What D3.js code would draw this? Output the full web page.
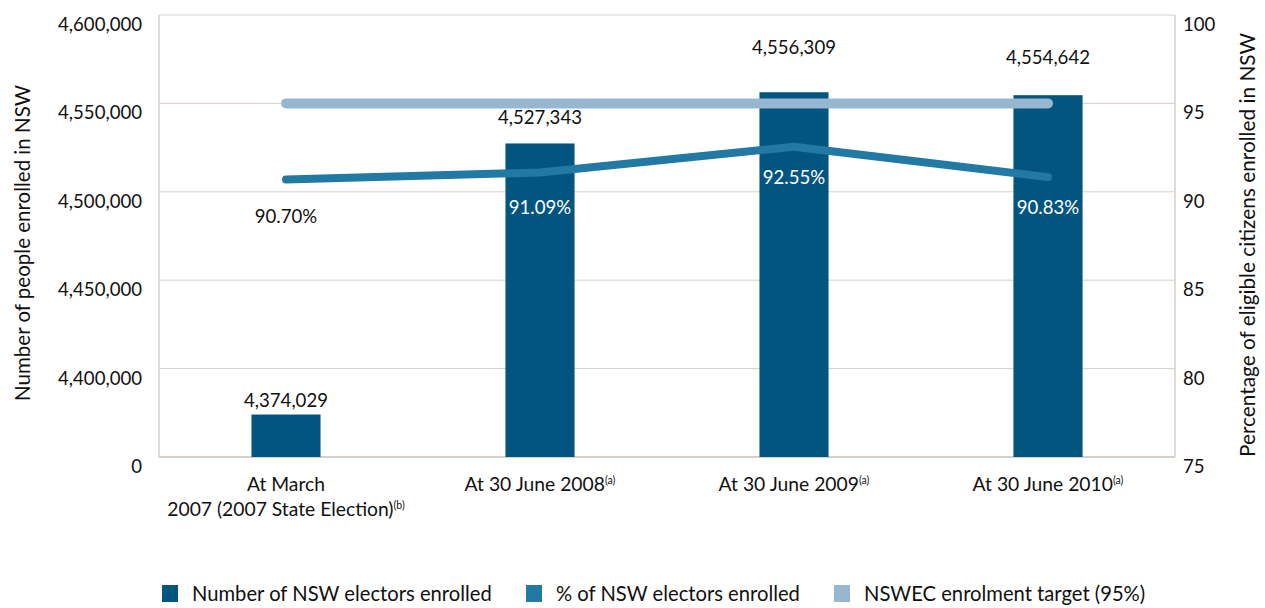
<!DOCTYPE html>
<html>
<head>
<meta charset="utf-8">
<script src="https://cdn.jsdelivr.net/npm/d3@7"></script>
<style>
  body { margin: 0; background: #fff; }
  svg { display: block; font-family: Lato, "DejaVu Sans", sans-serif; }
</style>
</head>
<body>
<script>
// data
const categories = ["2007", "2008", "2009", "2010"];
const categoryLines = [
    ["At March", "2007 (2007 State Election)"],
    ["At 30 June 2008"],
    ["At 30 June 2009"],
    ["At 30 June 2010"]
];
const categoryNotes = ["(b)", "(a)", "(a)", "(a)"];
const enrolled = [4374029, 4527343, 4556309, 4554642];
const percentEnrolled = [90.70, 91.09, 92.55, 90.83];
const targetPercent = [95, 95, 95, 95];
const leftTicks = [4350000, 4400000, 4450000, 4500000, 4550000, 4600000];
const rightTicks = [75, 80, 85, 90, 95, 100];
const legendLabels = ["Number of NSW electors enrolled", "% of NSW electors enrolled", "NSWEC enrolment target (95%)"];

// layout
const chartWidth = 1265, chartHeight = 608;
const plotLeft = 159, plotRight = 1175, plotTop = 15, plotBottom = 457;
const barColor = "#02557f", pctColor = "#2279a3", targetColor = "#97b7d0";
const gridColor = "#d6cfc7";
const textColor = "#111";
const valueLabelGap = [8, 19, 38, 31];
const pctLabelGap = [44, 41, 37, 37];

const svg = d3.select("body").append("svg")
    .attr("width", chartWidth)
    .attr("height", chartHeight);

const x = d3.scaleBand()
    .domain(categories)
    .range([plotLeft, plotRight])
    .paddingInner(0.728)
    .paddingOuter(0.364);

const yLeft = d3.scaleLinear()
    .domain([4350000, 4600000])
    .range([plotBottom, plotTop]);

const yRight = d3.scaleLinear()
    .domain([75, 100])
    .range([plotBottom, plotTop]);

const fmt = d3.format(",");

// grid
svg.append("g").selectAll("line")
    .data(leftTicks)
    .enter()
    .append("line")
    .attr("x1", plotLeft).attr("x2", plotRight)
    .attr("y1", (d) => yLeft(d)).attr("y2", (d) => yLeft(d))
    .attr("stroke", gridColor)
    .attr("stroke-width", (d, i) => i === 0 ? 2 : 1);

svg.append("line")
    .attr("x1", plotLeft).attr("x2", plotLeft).attr("y1", plotTop).attr("y2", plotBottom)
    .attr("stroke", gridColor).attr("stroke-width", 1.5);
svg.append("line")
    .attr("x1", plotRight).attr("x2", plotRight).attr("y1", plotTop).attr("y2", plotBottom)
    .attr("stroke", gridColor).attr("stroke-width", 1.5);

// axes
const leftAxis = d3.axisLeft(yLeft)
    .tickValues(leftTicks)
    .tickSize(0)
    .tickPadding(17)
    .tickFormat((d, i) => i === 0 ? "0" : fmt(d));
svg.append("g")
    .attr("transform", "translate(" + plotLeft + ",9.5)")
    .call(leftAxis)
    .call((g) => g.select(".domain").remove())
    .selectAll("text")
    .attr("font-size", 18.6)
    .attr("font-family", "Lato, sans-serif")
    .attr("fill", textColor);

const rightAxis = d3.axisRight(yRight)
    .tickValues(rightTicks)
    .tickSize(0)
    .tickPadding(8);
svg.append("g")
    .attr("transform", "translate(" + plotRight + ",9.5)")
    .call(rightAxis)
    .call((g) => g.select(".domain").remove())
    .selectAll("text")
    .attr("font-size", 18.6)
    .attr("font-family", "Lato, sans-serif")
    .attr("fill", textColor);

// axis titles
svg.append("text")
    .attr("transform", "translate(30,243) rotate(-90)")
    .attr("text-anchor", "middle")
    .attr("font-size", 20.5)
    .attr("fill", textColor)
    .text("Number of people enrolled in NSW");

svg.append("text")
    .attr("transform", "translate(1255,245) rotate(-90)")
    .attr("text-anchor", "middle")
    .attr("font-size", 20.8)
    .attr("fill", textColor)
    .text("Percentage of eligible citizens enrolled in NSW");

// bars
svg.append("g").selectAll("rect")
    .data(enrolled)
    .enter()
    .append("rect")
    .attr("x", (d, i) => x(categories[i]))
    .attr("width", x.bandwidth())
    .attr("y", (d) => yLeft(d))
    .attr("height", (d) => plotBottom - yLeft(d))
    .attr("fill", barColor);

const cx = (i) => x(categories[i]) + x.bandwidth() / 2;

// lines
const lineGen = d3.line()
    .x((d, i) => cx(i))
    .y((d) => yRight(d));

svg.append("path")
    .datum(targetPercent)
    .attr("d", lineGen)
    .attr("fill", "none")
    .attr("stroke", targetColor)
    .attr("stroke-width", 10)
    .attr("stroke-linecap", "round");

svg.append("path")
    .datum(percentEnrolled)
    .attr("d", lineGen)
    .attr("fill", "none")
    .attr("stroke", pctColor)
    .attr("stroke-width", 8)
    .attr("stroke-linecap", "round")
    .attr("stroke-linejoin", "round");

// value labels
svg.append("g").selectAll("text")
    .data(enrolled)
    .enter()
    .append("text")
    .attr("x", (d, i) => cx(i))
    .attr("y", (d, i) => yLeft(d) - valueLabelGap[i])
    .attr("text-anchor", "middle")
    .attr("font-size", 18.6)
    .attr("fill", textColor)
    .text((d) => fmt(d));

svg.append("g").selectAll("text")
    .data(percentEnrolled)
    .enter()
    .append("text")
    .attr("x", (d, i) => cx(i))
    .attr("y", (d, i) => yRight(d) + pctLabelGap[i])
    .attr("text-anchor", "middle")
    .attr("font-size", 18.6)
    .attr("fill", (d, i) => i === 0 ? textColor : "#fff")
    .text((d) => d.toFixed(2) + "%");

// category labels
const catG = svg.append("g").selectAll("text")
    .data(categories)
    .enter()
    .append("text")
    .attr("text-anchor", "middle")
    .attr("font-size", 19.3)
    .attr("fill", textColor);

catG.each(function(c, i) {
    const t = d3.select(this);
    const lines = categoryLines[i];
    lines.forEach(function(line, j) {
        t.append("tspan")
            .attr("x", cx(i))
            .attr("y", 491 + j * 25)
            .text(line);
        if (j === lines.length - 1) {
            t.append("tspan")
                .attr("dy", -7)
                .attr("font-size", 10.5)
                .text(categoryNotes[i]);
        }
    });
});

// legend
const legendX = [162, 526, 834];
const legendColors = [barColor, pctColor, targetColor];
const legend = svg.append("g").selectAll("g")
    .data(legendLabels)
    .enter()
    .append("g")
    .attr("transform", (d, i) => "translate(" + legendX[i] + ",585)");

legend.append("rect")
    .attr("width", 16)
    .attr("height", 17)
    .attr("fill", (d, i) => legendColors[i]);

legend.append("text")
    .attr("x", 30)
    .attr("y", 16)
    .attr("font-size", 20.2)
    .attr("fill", textColor)
    .text((d) => d);
</script>
</body>
</html>
